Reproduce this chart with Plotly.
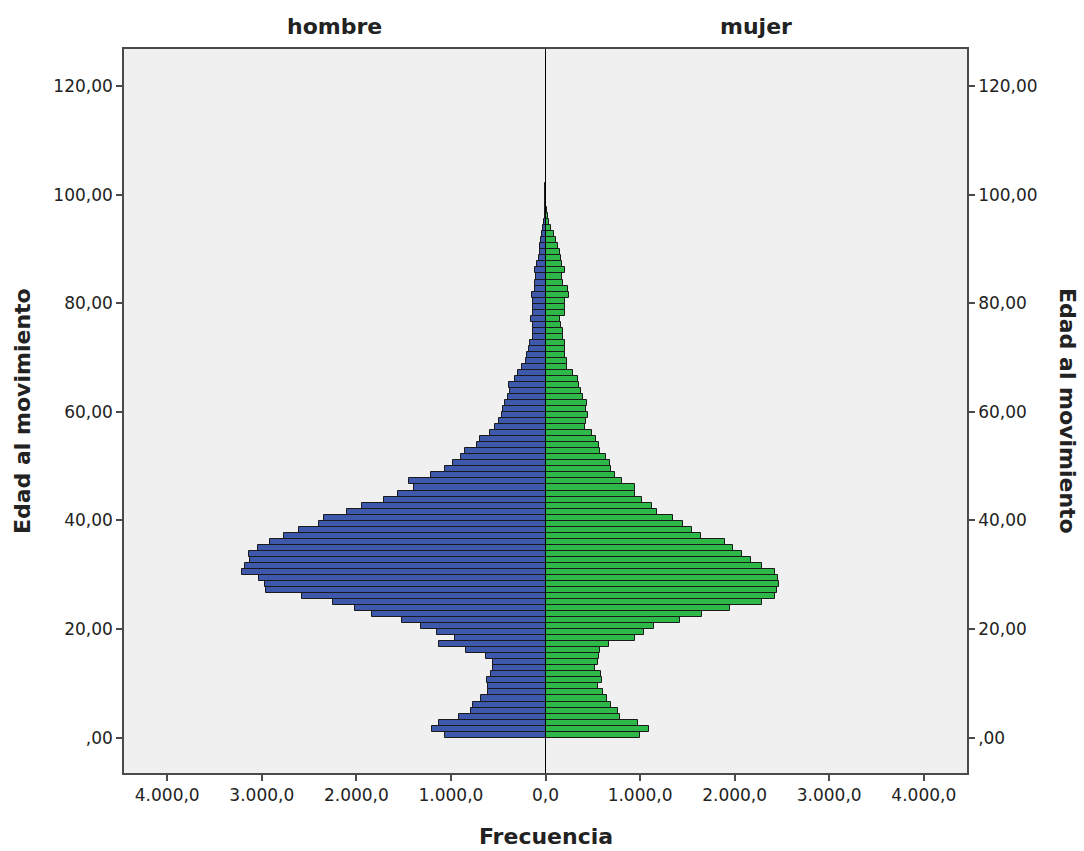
import plotly.graph_objects as go

# Frecuencias por clase de edad (de la clase más joven a la más vieja)
hombre = [1067, 1195, 1130, 910, 790, 762, 683, 610, 610, 615,
          575, 550, 552, 630, 840, 1130, 958, 1150, 1320, 1518,
          1835, 2018, 2245, 2570, 2957, 2970, 3027, 3205, 3180, 3120,
          3140, 3045, 2915, 2770, 2608, 2398, 2345, 2094, 1936, 1710,
          1562, 1390, 1442, 1214, 1060, 978, 890, 852, 722, 693,
          585, 530, 491, 462, 446, 430, 398, 373, 387, 327,
          292, 246, 211, 197, 176, 169, 134, 134, 134, 151,
          134, 127, 134, 141, 116, 109, 99, 106, 88, 70,
          63, 53, 46, 35, 28, 18, 7, 4, 2, 2,
          1, 1]
mujer = [996, 1091, 979, 792, 767, 690, 651, 609, 556, 602,
         591, 521, 556, 567, 574, 672, 950, 1038, 1144, 1419,
         1654, 1947, 2292, 2429, 2446, 2464, 2457, 2429, 2292, 2168,
         2077, 1982, 1894, 1640, 1549, 1454, 1348, 1179, 1126, 1021,
         943, 943, 810, 739, 693, 686, 644, 581, 563, 535,
         493, 422, 433, 451, 425, 436, 394, 377, 352, 341,
         289, 225, 225, 201, 201, 201, 190, 190, 165, 155,
         201, 211, 201, 246, 236, 190, 176, 211, 176, 165,
         148, 137, 113, 88, 60, 42, 28, 14, 7, 4,
         2, 1]

ancho_clase = 1.11
edad = [ancho_clase * (i + 0.5) for i in range(len(hombre))]

edad_ticks = [0, 20, 40, 60, 80, 100, 120]
edad_labels = [",00", "20,00", "40,00", "60,00", "80,00", "100,00", "120,00"]
frec_ticks = [-4000, -3000, -2000, -1000, 0, 1000, 2000, 3000, 4000]
frec_labels = ["4.000,0", "3.000,0", "2.000,0", "1.000,0", "0,0",
               "1.000,0", "2.000,0", "3.000,0", "4.000,0"]

C = dict(blue="#3E58AC", green="#2EB848", edge="#1a1a1a",
         frame="#4a4a4a", bg="#F0F0F0", text="#222222")
FONT = "DejaVu Sans"

fig = go.Figure()
fig.add_trace(go.Bar(
    y=edad, x=[-v for v in hombre], orientation="h", width=ancho_clase,
    marker=dict(color=C["blue"], line=dict(color=C["edge"], width=1)),
    name="hombre", customdata=hombre,
    hovertemplate="hombre: %{customdata}<extra></extra>",
))
fig.add_trace(go.Bar(
    y=edad, x=mujer, orientation="h", width=ancho_clase,
    marker=dict(color=C["green"], line=dict(color=C["edge"], width=1)),
    name="mujer", hovertemplate="mujer: %{x}<extra></extra>",
))
# eje derecho
fig.add_trace(go.Scatter(x=[None], y=[None], yaxis="y2", showlegend=False,
                         hoverinfo="skip"))

axis_common = dict(
    showgrid=False, zeroline=False, showline=True, linecolor=C["frame"],
    linewidth=1.5, ticks="outside", ticklen=6, tickcolor=C["frame"],
    tickwidth=1.5, tickfont=dict(family=FONT, size=17, color=C["text"]),
)

fig.update_layout(
    width=1084, height=851, autosize=False,
    margin=dict(l=124, r=117, t=49, b=78),
    paper_bgcolor="white", plot_bgcolor=C["bg"],
    barmode="overlay", bargap=0, showlegend=False,
    font=dict(family=FONT, color=C["text"]),
    xaxis=dict(range=[-4457, 4457], tickvals=frec_ticks, ticktext=frec_labels,
               mirror=True, **axis_common),
    yaxis=dict(range=[-6.5, 126.8], tickvals=edad_ticks, ticktext=edad_labels,
               mirror=True, **axis_common),
    yaxis2=dict(range=[-6.5, 126.8], tickvals=edad_ticks, ticktext=edad_labels,
                overlaying="y", side="right", anchor="x", **axis_common),
)

fig.add_shape(type="line", xref="x", yref="paper", x0=0, x1=0, y0=0, y1=1,
              line=dict(color="black", width=1), layer="above")

title_font = dict(family=FONT, size=22, color=C["text"])
fig.add_annotation(text="<b>hombre</b>", xref="paper", yref="paper", x=0.25, y=1,
                   xanchor="center", yanchor="bottom", yshift=8,
                   showarrow=False, font=title_font)
fig.add_annotation(text="<b>mujer</b>", xref="paper", yref="paper", x=0.75, y=1,
                   xanchor="center", yanchor="bottom", yshift=8,
                   showarrow=False, font=title_font)
fig.add_annotation(text="<b>Frecuencia</b>", xref="paper", yref="paper", x=0.5, y=0,
                   xanchor="center", yanchor="middle", yshift=-63,
                   showarrow=False, font=title_font)
fig.add_annotation(text="<b>Edad al movimiento</b>", xref="paper", yref="paper",
                   x=0, y=0.5, xanchor="center", yanchor="middle", xshift=-102,
                   textangle=-90, showarrow=False, font=title_font)
fig.add_annotation(text="<b>Edad al movimiento</b>", xref="paper", yref="paper",
                   x=1, y=0.5, xanchor="center", yanchor="middle", xshift=101,
                   textangle=90, showarrow=False, font=title_font)

fig.write_html("out.html", config={"displayModeBar": False},
               post_script="document.body.style.margin='0';")
